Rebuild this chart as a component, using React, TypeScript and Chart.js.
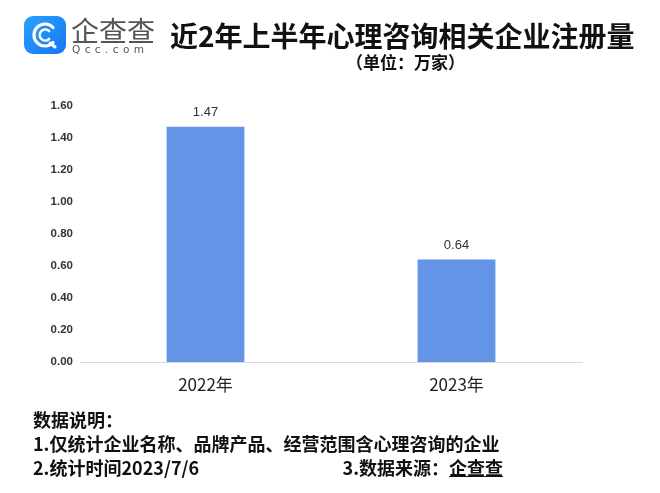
import React, { useEffect, useRef } from "react";
import { Chart, registerables } from "chart.js";

Chart.register(...registerables);

const categories = ["2022年", "2023年"];
const values = [1.47, 0.64];
const yTicks = [0, 0.2, 0.4, 0.6, 0.8, 1.0, 1.2, 1.4, 1.6];
const titleText = "近2年上半年心理咨询相关企业注册量";
const unitText = "（单位：万家）";
const notes = ["数据说明：", "1.仅统计企业名称、品牌产品、经营范围含心理咨询的企业"];
const note3Left = "2.统计时间2023/7/6";
const note3Right = "3.数据来源：";
const sourceName = "企查查";

const CJK = '"Noto Sans CJK SC", "Noto Sans", sans-serif';

const valueLabels = {
  id: "valueLabels",
  afterDatasetsDraw(chart: any) {
    const ctx = chart.ctx;
    const meta = chart.getDatasetMeta(0);
    ctx.save();
    ctx.font = '13px "Liberation Sans", Arial, sans-serif';
    ctx.fillStyle = "#333";
    ctx.textAlign = "center";
    ctx.textBaseline = "bottom";
    meta.data.forEach((bar: any, i: number) => {
      ctx.fillText(values[i].toFixed(2), bar.x, bar.y - 8);
    });
    ctx.restore();
  },
};

export default function App() {
  const ref = useRef<HTMLCanvasElement>(null);
  useEffect(() => {
    const chart = new Chart(ref.current!, {
      type: "bar",
      data: {
        labels: categories,
        datasets: [
          {
            data: values,
            backgroundColor: "#6394E6",
            categoryPercentage: 0.31,
            barPercentage: 1,
          },
        ],
      },
      options: {
        animation: false,
        responsive: false,
        maintainAspectRatio: false,
        layout: { padding: { top: 106, left: 0, right: 78, bottom: 91 } },
        plugins: { legend: { display: false }, tooltip: { enabled: false } },
        scales: {
          x: {
            grid: { display: false, drawTicks: false },
            border: { display: true, color: "#d9d9d9", width: 1 },
            ticks: {
              color: "#222",
              font: { family: CJK, size: 17 },
              padding: 12,
            },
            afterFit(scale: any) {
              scale.height = 40;
            },
          },
          y: {
            min: 0,
            max: 1.6,
            afterBuildTicks(scale: any) {
              scale.ticks = yTicks.map((v) => ({ value: v }));
            },
            grid: { display: false, drawTicks: false },
            border: { display: false },
            ticks: {
              color: "#333",
              font: { family: '"Liberation Sans", Arial, sans-serif', size: 11.5, weight: "bold" },
              padding: 7,
              callback: (v: any) => Number(v).toFixed(2),
            },
            afterFit(scale: any) {
              scale.width = 80;
            },
          },
        },
      },
      plugins: [valueLabels],
    });
    return () => chart.destroy();
  }, []);

  return (
    <div style={{ position: "absolute", left: 0, top: 0, width: 660, height: 493, background: "#fff", overflow: "hidden" }}>
      <canvas ref={ref} width={660} height={493} style={{ position: "absolute", left: 0, top: 0 }} />
      {/* logo */}
      <svg width={42} height={38} style={{ position: "absolute", left: 24, top: 16 }} viewBox="0 0 42 38">
        <defs>
          <linearGradient id="lg" x1="0" y1="0" x2="1" y2="1">
            <stop offset="0" stopColor="#2aa0ff" />
            <stop offset="1" stopColor="#1677f0" />
          </linearGradient>
        </defs>
        <rect x={0} y={0} width={42} height={38} rx={9} fill="url(#lg)" />
        <path d="M29 11.5 A11 11 0 1 0 29 26.5" fill="none" stroke="#fff" strokeWidth={3.2} strokeLinecap="round" />
        <path d="M25 15 A5.5 5.5 0 1 0 25 23" fill="none" stroke="#fff" strokeWidth={2.6} strokeLinecap="round" />
        <path d="M26 27 L31 31" stroke="#fff" strokeWidth={3} strokeLinecap="round" />
      </svg>
      <div style={{ position: "absolute", left: 71, top: 15, fontFamily: CJK, fontSize: 28, lineHeight: "30px", color: "#555", letterSpacing: 0 }}>
        企查查
      </div>
      <div style={{ position: "absolute", left: 72, top: 43, fontFamily: '"DejaVu Sans", sans-serif', fontSize: 10.5, lineHeight: "12px", color: "#555", letterSpacing: "4.4px" }}>
        Qcc.com
      </div>
      <div style={{ position: "absolute", left: 170, top: 19, fontFamily: CJK, fontWeight: "bold", fontSize: 28, lineHeight: "32px", color: "#111", whiteSpace: "nowrap" }}>
        {titleText}
      </div>
      <div style={{ position: "absolute", left: 346, top: 52, fontFamily: CJK, fontWeight: "bold", fontSize: 17, lineHeight: "20px", color: "#111", whiteSpace: "nowrap" }}>
        {unitText}
      </div>
      <div style={{ position: "absolute", left: 33, top: 407, fontFamily: CJK, fontWeight: "bold", fontSize: 18, lineHeight: "24px", color: "#111", whiteSpace: "nowrap" }}>
        <div>{notes[0]}</div>
        <div>{notes[1]}</div>
        <div style={{ position: "relative", width: 470 }}>
          <span>{note3Left}</span>
          <span style={{ position: "absolute", right: 0, top: 0 }}>
            {note3Right}
            <span style={{ textDecoration: "underline" }}>{sourceName}</span>
          </span>
        </div>
      </div>
    </div>
  );
}
